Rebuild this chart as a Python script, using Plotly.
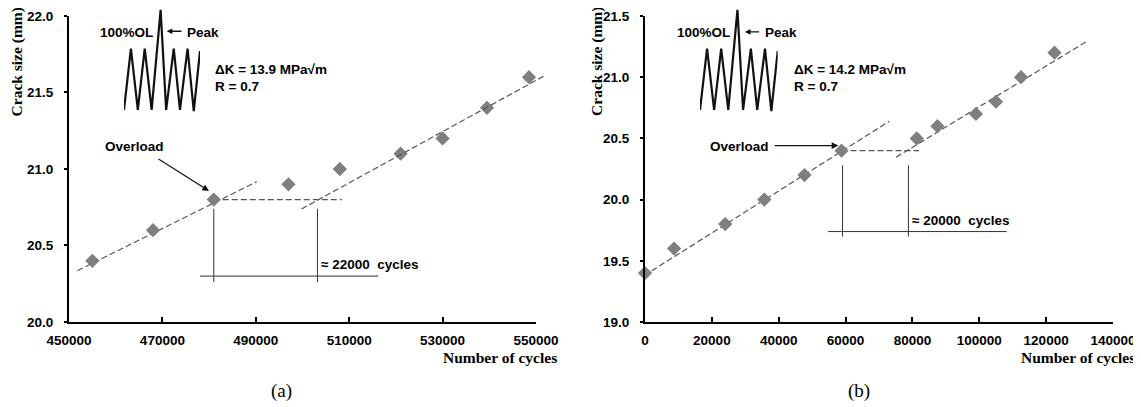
import plotly.graph_objects as go

# ---------------- data (a) ----------------
a_cycles = [455000, 468000, 481000, 497000, 508000, 521000, 530000, 539500, 548500]
a_crack = [20.4, 20.6, 20.8, 20.9, 21.0, 21.1, 21.2, 21.4, 21.6]
a_fit1_x = [451800, 490200]
a_fit1_y = [20.335, 20.917]
a_fit2_x = [499800, 552100]
a_fit2_y = [20.739, 21.614]
a_ol_x = 481000
a_ol_y = 20.8
a_dash_end_x = 508400
a_v2_x = 503200
a_vline_y = [20.74, 20.26]
a_hline_x = [478050, 516230]
a_hline_y = 20.30
a_xticks = [450000, 470000, 490000, 510000, 530000, 550000]
a_yticks = [20.0, 20.5, 21.0, 21.5, 22.0]

# ---------------- data (b) ----------------
b_cycles = [0, 8700, 24000, 35700, 47700, 58800, 81300, 87500, 99000, 105000, 112500, 122500]
b_crack = [19.4, 19.6, 19.8, 20.0, 20.2, 20.4, 20.5, 20.6, 20.7, 20.8, 21.0, 21.2]
b_fit1_x = [2000, 73100]
b_fit1_y = [19.418, 20.64]
b_fit2_x = [75100, 132000]
b_fit2_y = [20.346, 21.29]
b_ol_x = 58800
b_ol_y = 20.4
b_dash_end_x = 82000
b_v1_x = 59100
b_v2_x = 78800
b_vline_y = [20.28, 19.698]
b_hline_x = [54800, 108200]
b_hline_y = 19.739
b_xticks = [0, 20000, 40000, 60000, 80000, 100000, 120000, 140000]
b_yticks = [19.0, 19.5, 20.0, 20.5, 21.0, 21.5]

# load waveform schematic (relative units)
wave_x = [0, 1, 2, 3, 4, 5.3, 6.1, 7.2, 8.1, 9.2, 10.1, 11]
wave_y = [0, 1, 0, 1, 0, 1.63, 0, 1, 0, 1, -0.02, 0.96]

# page offset of the figure (default body margin) and figure size
OFF = 8
W, H = 1141 - OFF, 407 - OFF
ML, MR, MT, MB = 69 - OFF, 28, 0, 84.5
PW = W - ML - MR
PH = H - MT - MB

def px(x):
    return ((x - OFF) - ML) / PW

def py(y):
    return (H - MB - (y - OFF)) / PH

SANS = "Liberation Sans"
SERIF = "Liberation Serif"
MARK = "#7f7f7f"
DASH = "#555555"
SOLID = "#333333"

# panel (a) axis geometry (pixels) and extended hidden axis so the trend line can overrun the axis end
A_X0, A_X1, A_XEXT = 69, 536, 548
A_RANGE = [450000, 550000]
a_ext_end = A_RANGE[0] + (A_XEXT - A_X0) / (A_X1 - A_X0) * (A_RANGE[1] - A_RANGE[0])

fig = go.Figure()
dl = dict(color=DASH, width=1.2, dash="6px,3px")

def add_panel(xa, ya, cyc, crk, f1x, f1y, f2x, f2y, olx, oly, dend, v1x, v2x, vy, hx, hy, xa_f2):
    fig.add_trace(go.Scatter(x=f1x, y=f1y, mode="lines", xaxis=xa, yaxis=ya,
                             line=dl, showlegend=False, hoverinfo="skip"))
    fig.add_trace(go.Scatter(x=f2x, y=f2y, mode="lines", xaxis=xa_f2, yaxis=ya,
                             line=dl, showlegend=False, hoverinfo="skip"))
    fig.add_trace(go.Scatter(x=[olx, dend], y=[oly, oly], mode="lines", xaxis=xa, yaxis=ya,
                             line=dl, showlegend=False, hoverinfo="skip"))
    for vx in (v1x, v2x):
        fig.add_trace(go.Scatter(x=[vx, vx], y=vy, mode="lines", xaxis=xa, yaxis=ya,
                                 line=dict(color=SOLID, width=1), showlegend=False, hoverinfo="skip"))
    fig.add_trace(go.Scatter(x=hx, y=[hy, hy], mode="lines", xaxis=xa, yaxis=ya,
                             line=dict(color=SOLID, width=1), showlegend=False, hoverinfo="skip"))
    fig.add_trace(go.Scatter(x=cyc, y=crk, mode="markers", xaxis=xa, yaxis=ya,
                             marker=dict(symbol="diamond", size=11, color=MARK, line=dict(width=0)),
                             showlegend=False, cliponaxis=False))

add_panel("x", "y", a_cycles, a_crack, a_fit1_x, a_fit1_y, a_fit2_x, a_fit2_y,
          a_ol_x, a_ol_y, a_dash_end_x, a_ol_x, a_v2_x, a_vline_y, a_hline_x, a_hline_y, "x5")
add_panel("x2", "y2", b_cycles, b_crack, b_fit1_x, b_fit1_y, b_fit2_x, b_fit2_y,
          b_ol_x, b_ol_y, b_dash_end_x, b_v1_x, b_v2_x, b_vline_y, b_hline_x, b_hline_y, "x2")

# waveform insets
fig.add_trace(go.Scatter(x=wave_x, y=wave_y, mode="lines", xaxis="x3", yaxis="y3",
                         line=dict(color="#111111", width=2.2), showlegend=False, hoverinfo="skip"))
fig.add_trace(go.Scatter(x=wave_x, y=wave_y, mode="lines", xaxis="x4", yaxis="y4",
                         line=dict(color="#111111", width=2.2), showlegend=False, hoverinfo="skip"))

tickfont = dict(family=SANS, size=13.5, color="black", weight="bold")
axis_common = dict(showline=True, linecolor="black", linewidth=2, showgrid=False, zeroline=False,
                   mirror=False, tickfont=tickfont, automargin=False)

ytop = py(16)
ybot = py(322.5)
wave_bot = py(113.2)

fig.update_layout(
    width=W, height=H,
    margin=dict(l=ML, r=MR, t=MT, b=MB, pad=0),
    paper_bgcolor="white", plot_bgcolor="rgba(0,0,0,0)",
    xaxis=dict(domain=[0, px(A_X1)], range=A_RANGE, tickvals=a_xticks,
               ticktext=[str(v) for v in a_xticks],
               ticks="inside", ticklen=5, tickwidth=1.5, tickcolor="black", anchor="y",
               ticklabelstandoff=5, **axis_common),
    xaxis5=dict(domain=[0, px(A_XEXT)], range=[A_RANGE[0], a_ext_end], visible=False, anchor="y"),
    yaxis=dict(domain=[ybot, ytop], range=[20.0, 22.0], tickvals=a_yticks,
               ticktext=["%.1f" % v for v in a_yticks],
               ticks="outside", ticklen=3, tickwidth=1.5, tickcolor="black", anchor="x",
               ticklabelstandoff=8, **axis_common),
    xaxis2=dict(domain=[px(645), 1], range=[0, 140000], tickvals=b_xticks,
                ticktext=[str(v) for v in b_xticks],
                ticks="inside", ticklen=5, tickwidth=1.5, tickcolor="black", anchor="y2",
                ticklabelstandoff=5, **axis_common),
    yaxis2=dict(domain=[ybot, ytop], range=[19.0, 21.5], tickvals=b_yticks,
                ticktext=["%.1f" % v for v in b_yticks],
                ticks="outside", ticklen=3, tickwidth=1.5, tickcolor="black", anchor="x2",
                ticklabelstandoff=8, **axis_common),
    xaxis3=dict(domain=[px(124), px(200)], range=[0, 11], visible=False, anchor="y3"),
    yaxis3=dict(domain=[wave_bot, 1], range=[-0.05, 1.66], visible=False, anchor="x3"),
    xaxis4=dict(domain=[px(700), px(777.7)], range=[0, 11], visible=False, anchor="y4"),
    yaxis4=dict(domain=[wave_bot, 1], range=[-0.05, 1.66], visible=False, anchor="x4"),
)

afont = dict(family=SANS, size=13.5, color="black", weight="bold")
ann = []

def txt(x, y, t, xref, yref, xanchor="left"):
    ann.append(dict(x=x, y=y, text=t, xref=xref, yref=yref, showarrow=False,
                    xanchor=xanchor, yanchor="middle", font=afont))

def arrow(x, y, ax, ay, xref, yref, size=1.1, width=1.2):
    ann.append(dict(x=x, y=y, ax=ax, ay=ay, xref=xref, yref=yref, axref=xref, ayref=yref,
                    showarrow=True, arrowhead=2, arrowsize=size, arrowwidth=width,
                    arrowcolor="#111111", text=""))

# panel (a) texts
txt(468420, 21.893, "100%OL", "x", "y", "right")
arrow(470920, 21.90, 474400, 21.90, "x", "y", 0.8, 1.4)
txt(474840, 21.895, "Peak", "x", "y", "left")
txt(480900, 21.647, "\u0394K = 13.9 MPa\u221am", "x", "y")
txt(480900, 21.538, "R = 0.7", "x", "y")
txt(464130, 21.150, "Overload", "x", "y", "center")
txt(503600, 20.379, "\u2248 22000  cycles", "x", "y")
arrow(479980, 20.856, 468840, 21.072, "x", "y")

# panel (b) texts
txt(25940, 21.367, "100%OL", "x2", "y2", "right")
arrow(29910, 21.37, 34600, 21.37, "x2", "y2", 0.8, 1.4)
txt(35200, 21.365, "Peak", "x2", "y2", "left")
txt(43880, 21.060, "\u0394K = 14.2 MPa\u221am", "x2", "y2")
txt(43880, 20.924, "R = 0.7", "x2", "y2")
txt(28120, 20.436, "Overload", "x2", "y2", "center")
txt(79270, 19.833, "\u2248 20000  cycles", "x2", "y2")
arrow(57820, 20.441, 38380, 20.441, "x2", "y2")

# axis titles
tfont = dict(family=SERIF, size=15.5, color="black", weight="bold")
for xp, yp in ((16.5, 62), (597, 62)):
    ann.append(dict(x=px(xp), y=py(yp), xref="paper", yref="paper", text="Crack size (mm)",
                    textangle=-90, showarrow=False, xanchor="center", yanchor="middle", font=tfont))
for xp in (500, 1078):
    ann.append(dict(x=px(xp), y=py(358), xref="paper", yref="paper", text="Number of cycles",
                    showarrow=False, xanchor="center", yanchor="middle", font=tfont))

# captions
cfont = dict(family=SERIF, size=19, color="black")
ann.append(dict(x=px(281), y=py(392), xref="paper", yref="paper", text="(a)", showarrow=False,
                xanchor="center", yanchor="middle", font=cfont))
ann.append(dict(x=px(859), y=py(392), xref="paper", yref="paper", text="(b)", showarrow=False,
                xanchor="center", yanchor="middle", font=cfont))

fig.update_layout(annotations=ann)
fig.write_html("out.html")
